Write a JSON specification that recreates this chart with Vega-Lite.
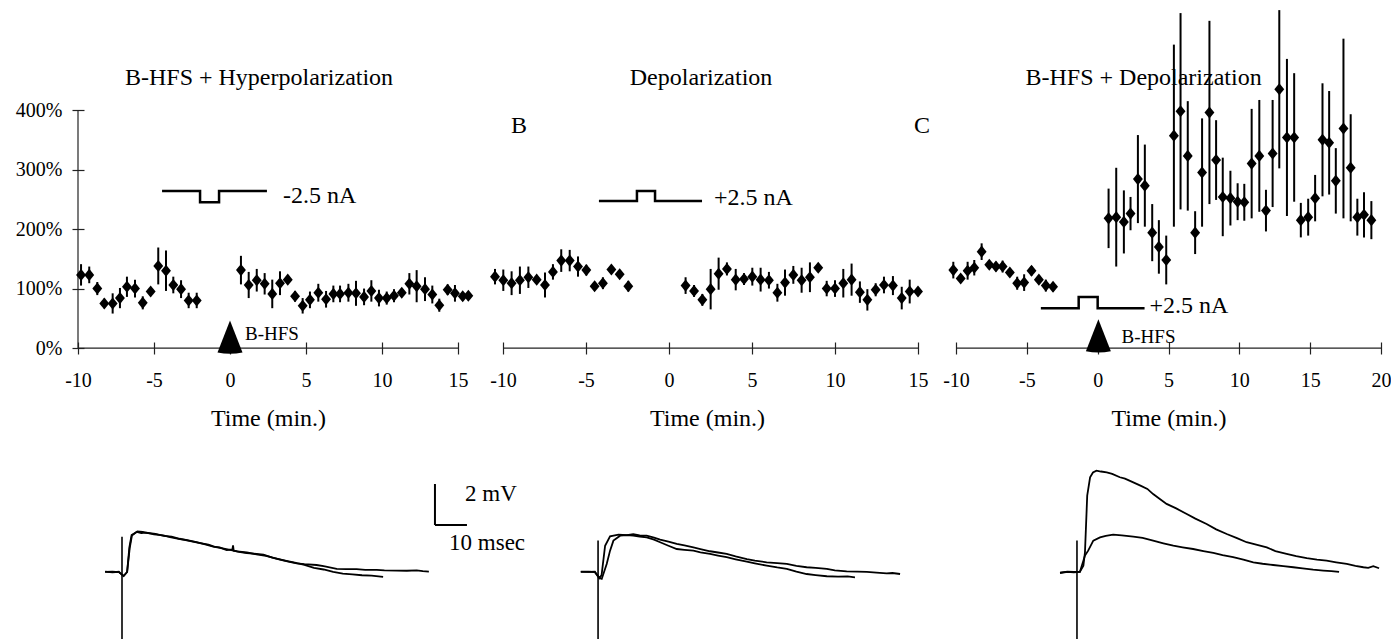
{
"$schema":"https://vega.github.io/schema/vega-lite/v6.json",
"padding":{"left":15,"top":0,"right":0,"bottom":0},
"background":"white",
"bounds":"flush",
"spacing":38,
"datasets":{
"ptsA":[
{"t":-9.80,"v":123,"lo":105,"hi":141},{"t":-9.26,"v":123,"lo":109,"hi":137},{"t":-8.73,"v":100,"lo":89,"hi":111},{"t":-8.27,"v":75,"lo":67,"hi":83},{"t":-7.72,"v":75,"lo":58,"hi":92},{"t":-7.24,"v":84,"lo":67,"hi":101},{"t":-6.78,"v":103,"lo":86,"hi":120},{"t":-6.25,"v":100,"lo":85,"hi":115},{"t":-5.74,"v":76,"lo":65,"hi":87},{"t":-5.22,"v":95,"lo":90,"hi":100},{"t":-4.72,"v":138,"lo":107,"hi":169},{"t":-4.21,"v":130,"lo":96,"hi":164},{"t":-3.73,"v":106,"lo":92,"hi":120},{"t":-3.22,"v":99,"lo":84,"hi":114},{"t":-2.72,"v":80,"lo":67,"hi":93},{"t":-2.19,"v":80,"lo":67,"hi":93},
{"t":0.72,"v":131,"lo":107,"hi":155},{"t":1.23,"v":106,"lo":84,"hi":128},{"t":1.76,"v":114,"lo":95,"hi":133},{"t":2.28,"v":108,"lo":90,"hi":126},{"t":2.78,"v":91,"lo":67,"hi":115},{"t":3.29,"v":109,"lo":89,"hi":129},{"t":3.80,"v":115,"lo":109,"hi":121},{"t":4.28,"v":87,"lo":78,"hi":96},{"t":4.78,"v":71,"lo":58,"hi":84},{"t":5.26,"v":81,"lo":67,"hi":95},{"t":5.81,"v":93,"lo":78,"hi":108},{"t":6.32,"v":82,"lo":68,"hi":96},{"t":6.80,"v":91,"lo":77,"hi":105},{"t":7.24,"v":91,"lo":77,"hi":105},{"t":7.79,"v":93,"lo":78,"hi":108},{"t":8.29,"v":92,"lo":71,"hi":113},{"t":8.82,"v":86,"lo":72,"hi":100},{"t":9.30,"v":96,"lo":78,"hi":114},{"t":9.80,"v":84,"lo":70,"hi":98},{"t":10.31,"v":84,"lo":73,"hi":95},{"t":10.79,"v":88,"lo":77,"hi":99},{"t":11.30,"v":93,"lo":86,"hi":100},{"t":11.80,"v":108,"lo":90,"hi":126},{"t":12.28,"v":104,"lo":77,"hi":131},{"t":12.83,"v":99,"lo":79,"hi":119},{"t":13.31,"v":90,"lo":75,"hi":105},{"t":13.77,"v":72,"lo":61,"hi":83},{"t":14.32,"v":98,"lo":89,"hi":107},{"t":14.80,"v":92,"lo":78,"hi":106},{"t":15.31,"v":87,"lo":80,"hi":94},{"t":15.68,"v":88,"lo":84,"hi":92}
],
"ptsB":[
{"t":-10.48,"v":120,"lo":107,"hi":133},{"t":-9.98,"v":114,"lo":96,"hi":132},{"t":-9.48,"v":109,"lo":89,"hi":129},{"t":-8.98,"v":114,"lo":91,"hi":137},{"t":-8.47,"v":119,"lo":101,"hi":137},{"t":-7.97,"v":115,"lo":109,"hi":121},{"t":-7.47,"v":106,"lo":85,"hi":127},{"t":-6.99,"v":128,"lo":115,"hi":141},{"t":-6.49,"v":147,"lo":128,"hi":166},{"t":-5.98,"v":147,"lo":129,"hi":165},{"t":-5.48,"v":137,"lo":120,"hi":154},{"t":-4.98,"v":131,"lo":122,"hi":140},{"t":-4.48,"v":104,"lo":99,"hi":109},{"t":-3.98,"v":109,"lo":99,"hi":119},{"t":-3.47,"v":132,"lo":127,"hi":137},{"t":-2.97,"v":124,"lo":119,"hi":129},{"t":-2.45,"v":104,"lo":95,"hi":113},
{"t":1.00,"v":105,"lo":91,"hi":119},{"t":1.51,"v":96,"lo":86,"hi":106},{"t":2.01,"v":81,"lo":71,"hi":91},{"t":2.51,"v":99,"lo":65,"hi":133},{"t":2.99,"v":125,"lo":98,"hi":152},{"t":3.49,"v":133,"lo":122,"hi":144},{"t":4.02,"v":115,"lo":97,"hi":133},{"t":4.52,"v":116,"lo":106,"hi":126},{"t":5.02,"v":120,"lo":105,"hi":135},{"t":5.52,"v":115,"lo":95,"hi":135},{"t":6.02,"v":114,"lo":100,"hi":128},{"t":6.53,"v":93,"lo":78,"hi":108},{"t":6.99,"v":110,"lo":88,"hi":132},{"t":7.49,"v":123,"lo":108,"hi":138},{"t":7.99,"v":114,"lo":93,"hi":135},{"t":8.49,"v":119,"lo":94,"hi":144},{"t":8.99,"v":135,"lo":130,"hi":140},{"t":9.50,"v":100,"lo":87,"hi":113},{"t":10.00,"v":100,"lo":86,"hi":114},{"t":10.50,"v":109,"lo":85,"hi":133},{"t":11.00,"v":115,"lo":88,"hi":142},{"t":11.50,"v":94,"lo":76,"hi":112},{"t":11.95,"v":81,"lo":63,"hi":99},{"t":12.45,"v":98,"lo":87,"hi":109},{"t":12.95,"v":106,"lo":92,"hi":120},{"t":13.49,"v":105,"lo":89,"hi":121},{"t":14.02,"v":84,"lo":65,"hi":103},{"t":14.50,"v":95,"lo":75,"hi":115},{"t":15.00,"v":95,"lo":90,"hi":100}
],
"ptsC":[
{"t":-10.19,"v":131,"lo":117,"hi":145},{"t":-9.67,"v":117,"lo":112,"hi":122},{"t":-9.18,"v":130,"lo":115,"hi":145},{"t":-8.71,"v":135,"lo":122,"hi":148},{"t":-8.19,"v":162,"lo":148,"hi":176},{"t":-7.65,"v":140,"lo":134,"hi":146},{"t":-7.18,"v":137,"lo":129,"hi":145},{"t":-6.71,"v":137,"lo":127,"hi":147},{"t":-6.20,"v":127,"lo":122,"hi":132},{"t":-5.68,"v":109,"lo":98,"hi":120},{"t":-5.19,"v":110,"lo":96,"hi":124},{"t":-4.67,"v":130,"lo":122,"hi":138},{"t":-4.15,"v":115,"lo":110,"hi":120},{"t":-3.66,"v":105,"lo":95,"hi":115},{"t":-3.15,"v":103,"lo":95,"hi":111},
{"t":0.77,"v":218,"lo":168,"hi":268},{"t":1.31,"v":220,"lo":137,"hi":303},{"t":1.85,"v":212,"lo":159,"hi":265},{"t":2.32,"v":226,"lo":198,"hi":254},{"t":2.84,"v":284,"lo":210,"hi":358},{"t":3.33,"v":273,"lo":204,"hi":342},{"t":3.85,"v":194,"lo":146,"hi":242},{"t":4.32,"v":170,"lo":125,"hi":215},{"t":4.84,"v":148,"lo":107,"hi":189},{"t":5.38,"v":357,"lo":204,"hi":510},{"t":5.85,"v":398,"lo":233,"hi":563},{"t":6.36,"v":323,"lo":231,"hi":415},{"t":6.88,"v":194,"lo":158,"hi":230},{"t":7.37,"v":295,"lo":204,"hi":386},{"t":7.89,"v":396,"lo":242,"hi":550},{"t":8.36,"v":316,"lo":249,"hi":383},{"t":8.83,"v":254,"lo":188,"hi":320},{"t":9.37,"v":252,"lo":206,"hi":298},{"t":9.88,"v":246,"lo":215,"hi":277},{"t":10.35,"v":245,"lo":214,"hi":276},{"t":10.87,"v":310,"lo":218,"hi":402},{"t":11.41,"v":323,"lo":229,"hi":417},{"t":11.88,"v":231,"lo":196,"hi":266},{"t":12.35,"v":327,"lo":237,"hi":417},{"t":12.82,"v":435,"lo":302,"hi":568},{"t":13.36,"v":354,"lo":222,"hi":486},{"t":13.87,"v":354,"lo":246,"hi":462},{"t":14.34,"v":215,"lo":186,"hi":244},{"t":14.86,"v":220,"lo":189,"hi":251},{"t":15.35,"v":252,"lo":213,"hi":291},{"t":15.87,"v":350,"lo":255,"hi":445},{"t":16.34,"v":345,"lo":258,"hi":432},{"t":16.81,"v":281,"lo":226,"hi":336},{"t":17.35,"v":369,"lo":218,"hi":520},{"t":17.86,"v":303,"lo":213,"hi":393},{"t":18.33,"v":220,"lo":189,"hi":251},{"t":18.80,"v":224,"lo":186,"hi":262},{"t":19.32,"v":215,"lo":183,"hi":247}
],
"trA":[
{"ms":-5.3,"mV":0.02,"tr":"1"},{"ms":-3,"mV":-0.02,"tr":"1"},{"ms":-1,"mV":0.01,"tr":"1"},{"ms":0.5,"mV":-0.2,"tr":"1"},{"ms":1.6,"mV":0.0,"tr":"1"},{"ms":2.3,"mV":1.2,"tr":"1"},{"ms":3.0,"mV":1.8,"tr":"1"},{"ms":4.6,"mV":1.95,"tr":"1"},{"ms":6,"mV":1.9,"tr":"1"},{"ms":7.7,"mV":1.92,"tr":"1"},{"ms":10,"mV":1.83,"tr":"1"},{"ms":12.9,"mV":1.78,"tr":"1"},{"ms":15,"mV":1.7,"tr":"1"},{"ms":18.1,"mV":1.6,"tr":"1"},{"ms":20,"mV":1.56,"tr":"1"},{"ms":23.3,"mV":1.46,"tr":"1"},{"ms":26,"mV":1.35,"tr":"1"},{"ms":28.5,"mV":1.24,"tr":"1"},{"ms":30.5,"mV":1.2,"tr":"1"},{"ms":32.7,"mV":1.07,"tr":"1"},{"ms":34.5,"mV":1.1,"tr":"1"},{"ms":34.7,"mV":1.3,"tr":"1"},{"ms":34.9,"mV":1.04,"tr":"1"},{"ms":37,"mV":0.97,"tr":"1"},{"ms":39,"mV":0.92,"tr":"1"},{"ms":42,"mV":0.88,"tr":"1"},{"ms":44.2,"mV":0.85,"tr":"1"},{"ms":47,"mV":0.7,"tr":"1"},{"ms":49.4,"mV":0.6,"tr":"1"},{"ms":52,"mV":0.5,"tr":"1"},{"ms":54.6,"mV":0.42,"tr":"1"},{"ms":57,"mV":0.38,"tr":"1"},{"ms":60.8,"mV":0.34,"tr":"1"},{"ms":63,"mV":0.28,"tr":"1"},{"ms":67.1,"mV":0.15,"tr":"1"},{"ms":70,"mV":0.14,"tr":"1"},{"ms":73.3,"mV":0.14,"tr":"1"},{"ms":76,"mV":0.1,"tr":"1"},{"ms":79.6,"mV":0.1,"tr":"1"},{"ms":82,"mV":0.08,"tr":"1"},{"ms":85.8,"mV":0.07,"tr":"1"},{"ms":89,"mV":0.06,"tr":"1"},{"ms":92.1,"mV":0.08,"tr":"1"},{"ms":94,"mV":0.04,"tr":"1"},{"ms":95.9,"mV":0.02,"tr":"1"},
{"ms":-5.3,"mV":0.0,"tr":"2"},{"ms":-3,"mV":0.02,"tr":"2"},{"ms":-1,"mV":-0.01,"tr":"2"},{"ms":0.5,"mV":-0.2,"tr":"2"},{"ms":1.6,"mV":0.0,"tr":"2"},{"ms":2.4,"mV":1.15,"tr":"2"},{"ms":3.1,"mV":1.78,"tr":"2"},{"ms":4.8,"mV":1.98,"tr":"2"},{"ms":6.5,"mV":1.95,"tr":"2"},{"ms":8,"mV":1.9,"tr":"2"},{"ms":10.5,"mV":1.86,"tr":"2"},{"ms":13,"mV":1.76,"tr":"2"},{"ms":15.5,"mV":1.72,"tr":"2"},{"ms":18,"mV":1.62,"tr":"2"},{"ms":21,"mV":1.52,"tr":"2"},{"ms":24,"mV":1.42,"tr":"2"},{"ms":27,"mV":1.33,"tr":"2"},{"ms":29,"mV":1.22,"tr":"2"},{"ms":31,"mV":1.16,"tr":"2"},{"ms":33,"mV":1.1,"tr":"2"},{"ms":36,"mV":1.0,"tr":"2"},{"ms":39,"mV":0.95,"tr":"2"},{"ms":42,"mV":0.86,"tr":"2"},{"ms":45,"mV":0.78,"tr":"2"},{"ms":48,"mV":0.66,"tr":"2"},{"ms":51,"mV":0.55,"tr":"2"},{"ms":54,"mV":0.45,"tr":"2"},{"ms":57,"mV":0.35,"tr":"2"},{"ms":60,"mV":0.2,"tr":"2"},{"ms":63,"mV":0.12,"tr":"2"},{"ms":66,"mV":0.0,"tr":"2"},{"ms":69,"mV":-0.08,"tr":"2"},{"ms":72,"mV":-0.12,"tr":"2"},{"ms":75,"mV":-0.16,"tr":"2"},{"ms":78,"mV":-0.18,"tr":"2"},{"ms":81.6,"mV":-0.24,"tr":"2"}
],
"trB":[
{"ms":-5.4,"mV":0.0,"tr":"1"},{"ms":-3,"mV":0.02,"tr":"1"},{"ms":-1,"mV":-0.01,"tr":"1"},{"ms":0.4,"mV":-0.3,"tr":"1"},{"ms":1.1,"mV":-0.15,"tr":"1"},{"ms":2.2,"mV":1.28,"tr":"1"},{"ms":3.75,"mV":1.74,"tr":"1"},{"ms":6.4,"mV":1.82,"tr":"1"},{"ms":9,"mV":1.8,"tr":"1"},{"ms":11,"mV":1.84,"tr":"1"},{"ms":13,"mV":1.78,"tr":"1"},{"ms":15.2,"mV":1.77,"tr":"1"},{"ms":17.5,"mV":1.68,"tr":"1"},{"ms":19.4,"mV":1.58,"tr":"1"},{"ms":22,"mV":1.48,"tr":"1"},{"ms":24.6,"mV":1.37,"tr":"1"},{"ms":27,"mV":1.3,"tr":"1"},{"ms":29.8,"mV":1.2,"tr":"1"},{"ms":32,"mV":1.12,"tr":"1"},{"ms":35,"mV":1.01,"tr":"1"},{"ms":37.5,"mV":0.95,"tr":"1"},{"ms":40.2,"mV":0.88,"tr":"1"},{"ms":43,"mV":0.76,"tr":"1"},{"ms":46.5,"mV":0.63,"tr":"1"},{"ms":49,"mV":0.55,"tr":"1"},{"ms":52.7,"mV":0.47,"tr":"1"},{"ms":56,"mV":0.43,"tr":"1"},{"ms":59,"mV":0.39,"tr":"1"},{"ms":62,"mV":0.3,"tr":"1"},{"ms":65.2,"mV":0.23,"tr":"1"},{"ms":68,"mV":0.2,"tr":"1"},{"ms":71.5,"mV":0.15,"tr":"1"},{"ms":74,"mV":0.08,"tr":"1"},{"ms":77.7,"mV":0.03,"tr":"1"},{"ms":81,"mV":0.02,"tr":"1"},{"ms":84,"mV":0.0,"tr":"1"},{"ms":87,"mV":-0.03,"tr":"1"},{"ms":90.2,"mV":-0.07,"tr":"1"},{"ms":92,"mV":-0.05,"tr":"1"},{"ms":94.4,"mV":-0.1,"tr":"1"},
{"ms":-5.4,"mV":0.02,"tr":"2"},{"ms":-3,"mV":0.0,"tr":"2"},{"ms":-1,"mV":0.01,"tr":"2"},{"ms":0.4,"mV":-0.3,"tr":"2"},{"ms":1.15,"mV":-0.34,"tr":"2"},{"ms":2.7,"mV":0.39,"tr":"2"},{"ms":3.75,"mV":1.04,"tr":"2"},{"ms":4.8,"mV":1.53,"tr":"2"},{"ms":6.9,"mV":1.77,"tr":"2"},{"ms":9,"mV":1.8,"tr":"2"},{"ms":11,"mV":1.77,"tr":"2"},{"ms":13,"mV":1.73,"tr":"2"},{"ms":15.2,"mV":1.69,"tr":"2"},{"ms":17.5,"mV":1.58,"tr":"2"},{"ms":19.4,"mV":1.45,"tr":"2"},{"ms":22,"mV":1.28,"tr":"2"},{"ms":24.6,"mV":1.12,"tr":"2"},{"ms":27,"mV":1.08,"tr":"2"},{"ms":29.8,"mV":1.04,"tr":"2"},{"ms":32,"mV":0.96,"tr":"2"},{"ms":35,"mV":0.88,"tr":"2"},{"ms":37.5,"mV":0.8,"tr":"2"},{"ms":40.2,"mV":0.72,"tr":"2"},{"ms":43,"mV":0.62,"tr":"2"},{"ms":46.5,"mV":0.5,"tr":"2"},{"ms":49,"mV":0.42,"tr":"2"},{"ms":52.7,"mV":0.31,"tr":"2"},{"ms":56,"mV":0.22,"tr":"2"},{"ms":59,"mV":0.15,"tr":"2"},{"ms":62,"mV":0.02,"tr":"2"},{"ms":65.2,"mV":-0.1,"tr":"2"},{"ms":68,"mV":-0.15,"tr":"2"},{"ms":71.5,"mV":-0.21,"tr":"2"},{"ms":75,"mV":-0.23,"tr":"2"},{"ms":78,"mV":-0.22,"tr":"2"},{"ms":80.3,"mV":-0.26,"tr":"2"}
],
"trC":[
{"ms":-5.3,"mV":-0.05,"tr":"1"},{"ms":-3,"mV":0.0,"tr":"1"},{"ms":-1,"mV":-0.02,"tr":"1"},{"ms":0.9,"mV":0.0,"tr":"1"},{"ms":2.0,"mV":0.3,"tr":"1"},{"ms":2.5,"mV":0.96,"tr":"1"},{"ms":3.2,"mV":3.72,"tr":"1"},{"ms":4.1,"mV":4.62,"tr":"1"},{"ms":5,"mV":4.85,"tr":"1"},{"ms":6.1,"mV":4.94,"tr":"1"},{"ms":7.5,"mV":4.9,"tr":"1"},{"ms":9.3,"mV":4.86,"tr":"1"},{"ms":11,"mV":4.78,"tr":"1"},{"ms":13.4,"mV":4.62,"tr":"1"},{"ms":15,"mV":4.55,"tr":"1"},{"ms":17.6,"mV":4.37,"tr":"1"},{"ms":20,"mV":4.2,"tr":"1"},{"ms":22,"mV":4.05,"tr":"1"},{"ms":23.8,"mV":3.8,"tr":"1"},{"ms":26,"mV":3.55,"tr":"1"},{"ms":28,"mV":3.32,"tr":"1"},{"ms":31,"mV":3.1,"tr":"1"},{"ms":34.3,"mV":2.83,"tr":"1"},{"ms":37,"mV":2.6,"tr":"1"},{"ms":40.5,"mV":2.34,"tr":"1"},{"ms":43.5,"mV":2.08,"tr":"1"},{"ms":46.8,"mV":1.85,"tr":"1"},{"ms":50,"mV":1.65,"tr":"1"},{"ms":53,"mV":1.45,"tr":"1"},{"ms":56,"mV":1.33,"tr":"1"},{"ms":59.3,"mV":1.2,"tr":"1"},{"ms":62,"mV":1.02,"tr":"1"},{"ms":65.5,"mV":0.88,"tr":"1"},{"ms":68.5,"mV":0.77,"tr":"1"},{"ms":71.8,"mV":0.67,"tr":"1"},{"ms":75,"mV":0.6,"tr":"1"},{"ms":78,"mV":0.55,"tr":"1"},{"ms":81,"mV":0.47,"tr":"1"},{"ms":84.3,"mV":0.39,"tr":"1"},{"ms":87,"mV":0.3,"tr":"1"},{"ms":89.5,"mV":0.23,"tr":"1"},{"ms":91,"mV":0.2,"tr":"1"},{"ms":92.6,"mV":0.28,"tr":"1"},{"ms":94.4,"mV":0.18,"tr":"1"},
{"ms":-5.3,"mV":-0.03,"tr":"2"},{"ms":-3,"mV":0.02,"tr":"2"},{"ms":-1,"mV":0.0,"tr":"2"},{"ms":0.9,"mV":0.0,"tr":"2"},{"ms":2.5,"mV":0.8,"tr":"2"},{"ms":3.5,"mV":1.04,"tr":"2"},{"ms":5.1,"mV":1.53,"tr":"2"},{"ms":7.2,"mV":1.69,"tr":"2"},{"ms":9,"mV":1.76,"tr":"2"},{"ms":11.3,"mV":1.82,"tr":"2"},{"ms":14,"mV":1.78,"tr":"2"},{"ms":17.6,"mV":1.72,"tr":"2"},{"ms":20.5,"mV":1.66,"tr":"2"},{"ms":23.8,"mV":1.53,"tr":"2"},{"ms":27,"mV":1.4,"tr":"2"},{"ms":30.1,"mV":1.28,"tr":"2"},{"ms":33,"mV":1.2,"tr":"2"},{"ms":36.3,"mV":1.12,"tr":"2"},{"ms":39.5,"mV":1.02,"tr":"2"},{"ms":42.6,"mV":0.93,"tr":"2"},{"ms":45.5,"mV":0.82,"tr":"2"},{"ms":48.8,"mV":0.72,"tr":"2"},{"ms":52,"mV":0.6,"tr":"2"},{"ms":55.1,"mV":0.47,"tr":"2"},{"ms":58,"mV":0.4,"tr":"2"},{"ms":61.3,"mV":0.34,"tr":"2"},{"ms":64.5,"mV":0.28,"tr":"2"},{"ms":67.6,"mV":0.23,"tr":"2"},{"ms":70.5,"mV":0.17,"tr":"2"},{"ms":73.8,"mV":0.11,"tr":"2"},{"ms":77,"mV":0.07,"tr":"2"},{"ms":79.5,"mV":0.04,"tr":"2"},{"ms":81.9,"mV":0.0,"tr":"2"}
]
},
"hconcat":[
{"width":380,"height":639,
 "resolve":{"scale":{"x":"independent","y":"independent"},"axis":{"x":"independent","y":"independent"}},
 "layer":[
{"data":{"values":[{"t":-10,"t2":15,"v":0}]},"mark":{"type":"rule","color":"#222","strokeWidth":1.2},
 "encoding":{"x":{"field":"t","type":"quantitative","scale":{"domain":[-10,15],"nice":false,"zero":false},"axis":{"values":[-10,-5,0,5,10,15],"domain":false,"offset":-297,"tickSize":12,"labelPadding":16,"labelFlush":false,"labelOverlap":false,"labelExpr":"'' + datum.value","title":"Time (min.)","titlePadding":16}},"x2":{"field":"t2"},
 "y":{"field":"v","type":"quantitative","scale":{"domain":[-489,585],"nice":false,"zero":false},"axis":{"values":[0,100,200,300,400],"domain":false,"offset":-6,"tickSize":12,"labelPadding":10,"labelExpr":"datum.value + '%'","title":null}}}},
{"data":{"values":[{"t":-10,"v":0,"v2":400}]},"mark":{"type":"rule","color":"#222","strokeWidth":1.2},
 "encoding":{"x":{"field":"t","type":"quantitative","scale":{"domain":[-10,15],"nice":false,"zero":false},"axis":null},"y":{"field":"v","type":"quantitative","scale":{"domain":[-489,585],"nice":false,"zero":false},"axis":null},"y2":{"field":"v2"}}},
{"data":{"name":"ptsA"},"mark":{"type":"rule","color":"#000","strokeWidth":2},
 "encoding":{"x":{"field":"t","type":"quantitative","scale":{"domain":[-10,15],"nice":false,"zero":false},"axis":null},"y":{"field":"lo","type":"quantitative","scale":{"domain":[-489,585],"nice":false,"zero":false},"axis":null},"y2":{"field":"hi"}}},
{"data":{"name":"ptsA"},"mark":{"type":"point","filled":true,"opacity":1,"color":"#000","shape":"M0,-1.1L0.9,0L0,1.1L-0.9,0Z","size":121},
 "encoding":{"x":{"field":"t","type":"quantitative","scale":{"domain":[-10,15],"nice":false,"zero":false},"axis":null},"y":{"field":"v","type":"quantitative","scale":{"domain":[-489,585],"nice":false,"zero":false},"axis":null}}},
{"data":{"values":[{"t":-4.47,"v":264},{"t":-1.97,"v":245},{"t":-0.72,"v":264},{"t":2.43,"v":264}]},"mark":{"type":"line","interpolate":"step-after","color":"#000","strokeWidth":2.5},
 "encoding":{"x":{"field":"t","type":"quantitative","scale":{"domain":[-10,15],"nice":false,"zero":false},"axis":null},"y":{"field":"v","type":"quantitative","scale":{"domain":[-489,585],"nice":false,"zero":false},"axis":null}}},
{"data":{"values":[{"t":1.91,"v":442,"label":"B-HFS + Hyperpolarization"}]},"mark":{"type":"text","align":"center","baseline":"alphabetic","fontSize":24},
 "encoding":{"x":{"field":"t","type":"quantitative","scale":{"domain":[-10,15],"nice":false,"zero":false},"axis":null},"y":{"field":"v","type":"quantitative","scale":{"domain":[-489,585],"nice":false,"zero":false},"axis":null},"text":{"field":"label"}}},
{"data":{"values":[{"t":3.49,"v":244,"label":"-2.5 nA"}]},"mark":{"type":"text","align":"left","baseline":"alphabetic","fontSize":24},
 "encoding":{"x":{"field":"t","type":"quantitative","scale":{"domain":[-10,15],"nice":false,"zero":false},"axis":null},"y":{"field":"v","type":"quantitative","scale":{"domain":[-489,585],"nice":false,"zero":false},"axis":null},"text":{"field":"label"}}},
{"data":{"values":[{"t":0.99,"v":13.4,"label":"B-HFS"}]},"mark":{"type":"text","align":"left","baseline":"alphabetic","fontSize":19},
 "encoding":{"x":{"field":"t","type":"quantitative","scale":{"domain":[-10,15],"nice":false,"zero":false},"axis":null},"y":{"field":"v","type":"quantitative","scale":{"domain":[-489,585],"nice":false,"zero":false},"axis":null},"text":{"field":"label"}}},
{"data":{"values":[{"t":0,"v":19}]},"mark":{"type":"point","filled":true,"opacity":1,"color":"#000","shape":"M0,-1.3L1,1.25Q0,1.45,-1,1.25Z","size":625},
 "encoding":{"x":{"field":"t","type":"quantitative","scale":{"domain":[-10,15],"nice":false,"zero":false},"axis":null},"y":{"field":"v","type":"quantitative","scale":{"domain":[-489,585],"nice":false,"zero":false},"axis":null}}},
{"data":{"name":"trA"},"mark":{"type":"line","color":"#000","strokeWidth":1.8},
 "encoding":{"x":{"field":"ms","type":"quantitative","scale":{"domain":[-13.75,105],"nice":false,"zero":false},"axis":null},"y":{"field":"mV","type":"quantitative","scale":{"domain":[-3.27,27.9],"nice":false,"zero":false},"axis":null},"detail":{"field":"tr"}}},
{"data":{"values":[{"ms":0,"mV":1.72,"mV2":-3.6}]},"mark":{"type":"rule","color":"#000","strokeWidth":1.6,"clip":true},
 "encoding":{"x":{"field":"ms","type":"quantitative","scale":{"domain":[-13.75,105],"nice":false,"zero":false},"axis":null},"y":{"field":"mV","type":"quantitative","scale":{"domain":[-3.27,27.9],"nice":false,"zero":false},"axis":null},"y2":{"field":"mV2"}}},
{"data":{"values":[{"ms":97.8,"mV":4.29,"ms2":97.8,"mV2":2.29},{"ms":97.8,"mV":2.29,"ms2":107.8,"mV2":2.29}]},"mark":{"type":"rule","color":"#000","strokeWidth":2},
 "encoding":{"x":{"field":"ms","type":"quantitative","scale":{"domain":[-13.75,105],"nice":false,"zero":false},"axis":null},"x2":{"field":"ms2"},"y":{"field":"mV","type":"quantitative","scale":{"domain":[-3.27,27.9],"nice":false,"zero":false},"axis":null},"y2":{"field":"mV2"}}},
{"data":{"values":[{"ms":107.2,"mV":3.8,"label":"2 mV"},{"ms":102.2,"mV":1.41,"label":"10 msec"}]},"mark":{"type":"text","align":"left","baseline":"middle","fontSize":23},
 "encoding":{"x":{"field":"ms","type":"quantitative","scale":{"domain":[-13.75,105],"nice":false,"zero":false},"axis":null},"y":{"field":"mV","type":"quantitative","scale":{"domain":[-3.27,27.9],"nice":false,"zero":false},"axis":null},"text":{"field":"label"}}}
]},
{"width":422,"height":639,
 "resolve":{"scale":{"x":"independent","y":"independent"},"axis":{"x":"independent","y":"independent"}},
 "layer":[
{"data":{"values":[{"t":-10,"t2":15,"v":0}]},"mark":{"type":"rule","color":"#222","strokeWidth":1.2},
 "encoding":{"x":{"field":"t","type":"quantitative","scale":{"domain":[-10.42,15],"nice":false,"zero":false},"axis":{"values":[-10,-5,0,5,10,15],"domain":false,"offset":-297,"tickSize":12,"labelPadding":16,"labelFlush":false,"labelOverlap":false,"labelExpr":"'' + datum.value","title":"Time (min.)","titlePadding":16}},"x2":{"field":"t2"},
 "y":{"field":"v","type":"quantitative","scale":{"domain":[-489,585],"nice":false,"zero":false},"axis":null}}},
{"data":{"name":"ptsB"},"mark":{"type":"rule","color":"#000","strokeWidth":2},
 "encoding":{"x":{"field":"t","type":"quantitative","scale":{"domain":[-10.42,15],"nice":false,"zero":false},"axis":null},"y":{"field":"lo","type":"quantitative","scale":{"domain":[-489,585],"nice":false,"zero":false},"axis":null},"y2":{"field":"hi"}}},
{"data":{"name":"ptsB"},"mark":{"type":"point","filled":true,"opacity":1,"color":"#000","shape":"M0,-1.1L0.9,0L0,1.1L-0.9,0Z","size":121},
 "encoding":{"x":{"field":"t","type":"quantitative","scale":{"domain":[-10.42,15],"nice":false,"zero":false},"axis":null},"y":{"field":"v","type":"quantitative","scale":{"domain":[-489,585],"nice":false,"zero":false},"axis":null}}},
{"data":{"values":[{"t":-4.22,"v":247},{"t":-1.93,"v":264},{"t":-0.84,"v":247},{"t":1.99,"v":247}]},"mark":{"type":"line","interpolate":"step-after","color":"#000","strokeWidth":2.5},
 "encoding":{"x":{"field":"t","type":"quantitative","scale":{"domain":[-10.42,15],"nice":false,"zero":false},"axis":null},"y":{"field":"v","type":"quantitative","scale":{"domain":[-489,585],"nice":false,"zero":false},"axis":null}}},
{"data":{"values":[{"t":1.93,"v":442,"label":"Depolarization"},{"t":-9.04,"v":361,"label":"B"},{"t":15.24,"v":361,"label":"C"}]},"mark":{"type":"text","align":"center","baseline":"alphabetic","fontSize":24},
 "encoding":{"x":{"field":"t","type":"quantitative","scale":{"domain":[-10.42,15],"nice":false,"zero":false},"axis":null},"y":{"field":"v","type":"quantitative","scale":{"domain":[-489,585],"nice":false,"zero":false},"axis":null},"text":{"field":"label"}}},
{"data":{"values":[{"t":2.71,"v":240,"label":"+2.5 nA"}]},"mark":{"type":"text","align":"left","baseline":"alphabetic","fontSize":24},
 "encoding":{"x":{"field":"t","type":"quantitative","scale":{"domain":[-10.42,15],"nice":false,"zero":false},"axis":null},"y":{"field":"v","type":"quantitative","scale":{"domain":[-489,585],"nice":false,"zero":false},"axis":null},"text":{"field":"label"}}},
{"data":{"name":"trB"},"mark":{"type":"line","color":"#000","strokeWidth":1.8},
 "encoding":{"x":{"field":"ms","type":"quantitative","scale":{"domain":[-31.9,100],"nice":false,"zero":false},"axis":null},"y":{"field":"mV","type":"quantitative","scale":{"domain":[-3.27,27.9],"nice":false,"zero":false},"axis":null},"detail":{"field":"tr"}}},
{"data":{"values":[{"ms":0,"mV":1.53,"mV2":-3.6}]},"mark":{"type":"rule","color":"#000","strokeWidth":1.6,"clip":true},
 "encoding":{"x":{"field":"ms","type":"quantitative","scale":{"domain":[-31.9,100],"nice":false,"zero":false},"axis":null},"y":{"field":"mV","type":"quantitative","scale":{"domain":[-3.27,27.9],"nice":false,"zero":false},"axis":null},"y2":{"field":"mV2"}}}
]},
{"width":425,"height":639,
 "resolve":{"scale":{"x":"independent","y":"independent"},"axis":{"x":"independent","y":"independent"}},
 "layer":[
{"data":{"values":[{"t":-10,"t2":20,"v":0}]},"mark":{"type":"rule","color":"#222","strokeWidth":1.2},
 "encoding":{"x":{"field":"t","type":"quantitative","scale":{"domain":[-10,20],"nice":false,"zero":false},"axis":{"values":[-10,-5,0,5,10,15,20],"domain":false,"offset":-297,"tickSize":12,"labelPadding":16,"labelFlush":false,"labelOverlap":false,"labelExpr":"'' + datum.value","title":"Time (min.)","titlePadding":16}},"x2":{"field":"t2"},
 "y":{"field":"v","type":"quantitative","scale":{"domain":[-489,585],"nice":false,"zero":false},"axis":null}}},
{"data":{"name":"ptsC"},"mark":{"type":"rule","color":"#000","strokeWidth":2},
 "encoding":{"x":{"field":"t","type":"quantitative","scale":{"domain":[-10,20],"nice":false,"zero":false},"axis":null},"y":{"field":"lo","type":"quantitative","scale":{"domain":[-489,585],"nice":false,"zero":false},"axis":null},"y2":{"field":"hi"}}},
{"data":{"name":"ptsC"},"mark":{"type":"point","filled":true,"opacity":1,"color":"#000","shape":"M0,-1.1L0.9,0L0,1.1L-0.9,0Z","size":121},
 "encoding":{"x":{"field":"t","type":"quantitative","scale":{"domain":[-10,20],"nice":false,"zero":false},"axis":null},"y":{"field":"v","type":"quantitative","scale":{"domain":[-489,585],"nice":false,"zero":false},"axis":null}}},
{"data":{"values":[{"t":-4.01,"v":67},{"t":-1.34,"v":86},{"t":0.0,"v":67},{"t":3.31,"v":67}]},"mark":{"type":"line","interpolate":"step-after","color":"#000","strokeWidth":2.5},
 "encoding":{"x":{"field":"t","type":"quantitative","scale":{"domain":[-10,20],"nice":false,"zero":false},"axis":null},"y":{"field":"v","type":"quantitative","scale":{"domain":[-489,585],"nice":false,"zero":false},"axis":null}}},
{"data":{"values":[{"t":3.24,"v":442,"label":"B-HFS + Depolarization"}]},"mark":{"type":"text","align":"center","baseline":"alphabetic","fontSize":24},
 "encoding":{"x":{"field":"t","type":"quantitative","scale":{"domain":[-10,20],"nice":false,"zero":false},"axis":null},"y":{"field":"v","type":"quantitative","scale":{"domain":[-489,585],"nice":false,"zero":false},"axis":null},"text":{"field":"label"}}},
{"data":{"values":[{"t":3.66,"v":59,"label":"+2.5 nA"}]},"mark":{"type":"text","align":"left","baseline":"alphabetic","fontSize":24},
 "encoding":{"x":{"field":"t","type":"quantitative","scale":{"domain":[-10,20],"nice":false,"zero":false},"axis":null},"y":{"field":"v","type":"quantitative","scale":{"domain":[-489,585],"nice":false,"zero":false},"axis":null},"text":{"field":"label"}}},
{"data":{"values":[{"t":1.69,"v":8.4,"label":"B-HFS"}]},"mark":{"type":"text","align":"left","baseline":"alphabetic","fontSize":19},
 "encoding":{"x":{"field":"t","type":"quantitative","scale":{"domain":[-10,20],"nice":false,"zero":false},"axis":null},"y":{"field":"v","type":"quantitative","scale":{"domain":[-489,585],"nice":false,"zero":false},"axis":null},"text":{"field":"label"}}},
{"data":{"values":[{"t":0.05,"v":21}]},"mark":{"type":"point","filled":true,"opacity":1,"color":"#000","shape":"M0,-1.3L1,1.25Q0,1.45,-1,1.25Z","size":625},
 "encoding":{"x":{"field":"t","type":"quantitative","scale":{"domain":[-10,20],"nice":false,"zero":false},"axis":null},"y":{"field":"v","type":"quantitative","scale":{"domain":[-489,585],"nice":false,"zero":false},"axis":null}}},
{"data":{"name":"trC"},"mark":{"type":"line","color":"#000","strokeWidth":1.8},
 "encoding":{"x":{"field":"ms","type":"quantitative","scale":{"domain":[-37.8,95],"nice":false,"zero":false},"axis":null},"y":{"field":"mV","type":"quantitative","scale":{"domain":[-3.27,27.9],"nice":false,"zero":false},"axis":null},"detail":{"field":"tr"}}},
{"data":{"values":[{"ms":0,"mV":1.53,"mV2":-3.6}]},"mark":{"type":"rule","color":"#000","strokeWidth":1.6,"clip":true},
 "encoding":{"x":{"field":"ms","type":"quantitative","scale":{"domain":[-37.8,95],"nice":false,"zero":false},"axis":null},"y":{"field":"mV","type":"quantitative","scale":{"domain":[-3.27,27.9],"nice":false,"zero":false},"axis":null},"y2":{"field":"mV2"}}}
]}
],
"config":{
 "font":"Liberation Serif",
 "view":{"stroke":null},
 "axis":{"labelFont":"Liberation Serif","titleFont":"Liberation Serif","labelColor":"#000","titleColor":"#000","labelFontSize":20,"titleFontSize":24,"titleFontWeight":"normal","tickColor":"#222","tickWidth":1.2,"grid":false},
 "text":{"font":"Liberation Serif","color":"#000"}
}
}
